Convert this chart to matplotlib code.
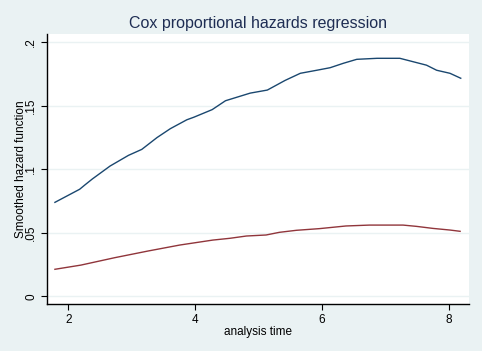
import numpy as np
import matplotlib.pyplot as plt

plt.rcParams['font.family'] = ['Liberation Sans', 'DejaVu Sans']

# smoothed hazard, group 1 (upper, navy)
t_hi = [1.79, 2.18, 2.26, 2.38, 2.66, 2.95, 3.16, 3.40, 3.61, 3.87, 3.98, 4.27,
        4.48, 4.87, 5.14, 5.42, 5.66, 5.92, 6.13, 6.34, 6.55, 6.87, 7.23, 7.44,
        7.65, 7.81, 8.02, 8.19]
h_hi = [0.0740, 0.0843, 0.0876, 0.0924, 0.1026, 0.1110, 0.1157, 0.1250, 0.1320,
        0.1390, 0.1410, 0.1470, 0.1540, 0.1600, 0.1624, 0.1700, 0.1756, 0.1780,
        0.1800, 0.1835, 0.1866, 0.1874, 0.1874, 0.1847, 0.1820, 0.1780, 0.1756,
        0.1717]

# smoothed hazard, group 2 (lower, maroon)
t_lo = [1.79, 2.20, 2.73, 3.26, 3.76, 4.28, 4.55, 4.81, 5.12, 5.33, 5.60, 5.96,
        6.38, 6.75, 7.28, 7.49, 7.75, 8.02, 8.18]
h_lo = [0.0213, 0.0246, 0.0304, 0.0357, 0.0404, 0.0443, 0.0457, 0.0475, 0.0483,
        0.0504, 0.0520, 0.0533, 0.0554, 0.0561, 0.0561, 0.0551, 0.0535, 0.0522,
        0.0512]

xticks = [2, 4, 6, 8]
yticks = [0, 0.05, 0.1, 0.15, 0.2]
ylabels = ['0', '.05', '.1', '.15', '.2']

bg = '#eaf2f3'
fig = plt.figure(figsize=(4.82, 3.51), dpi=100, facecolor=bg)
ax = fig.add_axes([0.0975, 0.134, 0.8755, 0.769])
ax.set_facecolor('white')

ax.plot(t_hi, h_hi, color='#1a476f', lw=1.0)
ax.plot(t_lo, h_lo, color='#90353b', lw=1.0)

ax.set_xlim(1.665, 8.32)
ax.set_ylim(-0.006, 0.2065)
ax.set_xticks(xticks)
ax.set_yticks(yticks)
ax.set_yticklabels(ylabels, rotation=90, va='center')
ax.grid(axis='y', color=bg, lw=1.0)
ax.set_axisbelow(True)

for s in ['top', 'right']:
    ax.spines[s].set_visible(False)
for s in ['left', 'bottom']:
    ax.spines[s].set_color('black')
    ax.spines[s].set_linewidth(1.0)
ax.tick_params(direction='out', length=4, width=0.8, labelsize=8.5, pad=3,
               colors='black')

ax.set_xlabel('analysis time', fontsize=8.5, labelpad=0)
ax.set_ylabel('Smoothed hazard function', fontsize=8.5, labelpad=-1)
ax.set_title('Cox proportional hazards regression', fontsize=11.5,
             color='#1e2d53', pad=4)

fig.savefig('out.png', dpi=100, facecolor=bg)
